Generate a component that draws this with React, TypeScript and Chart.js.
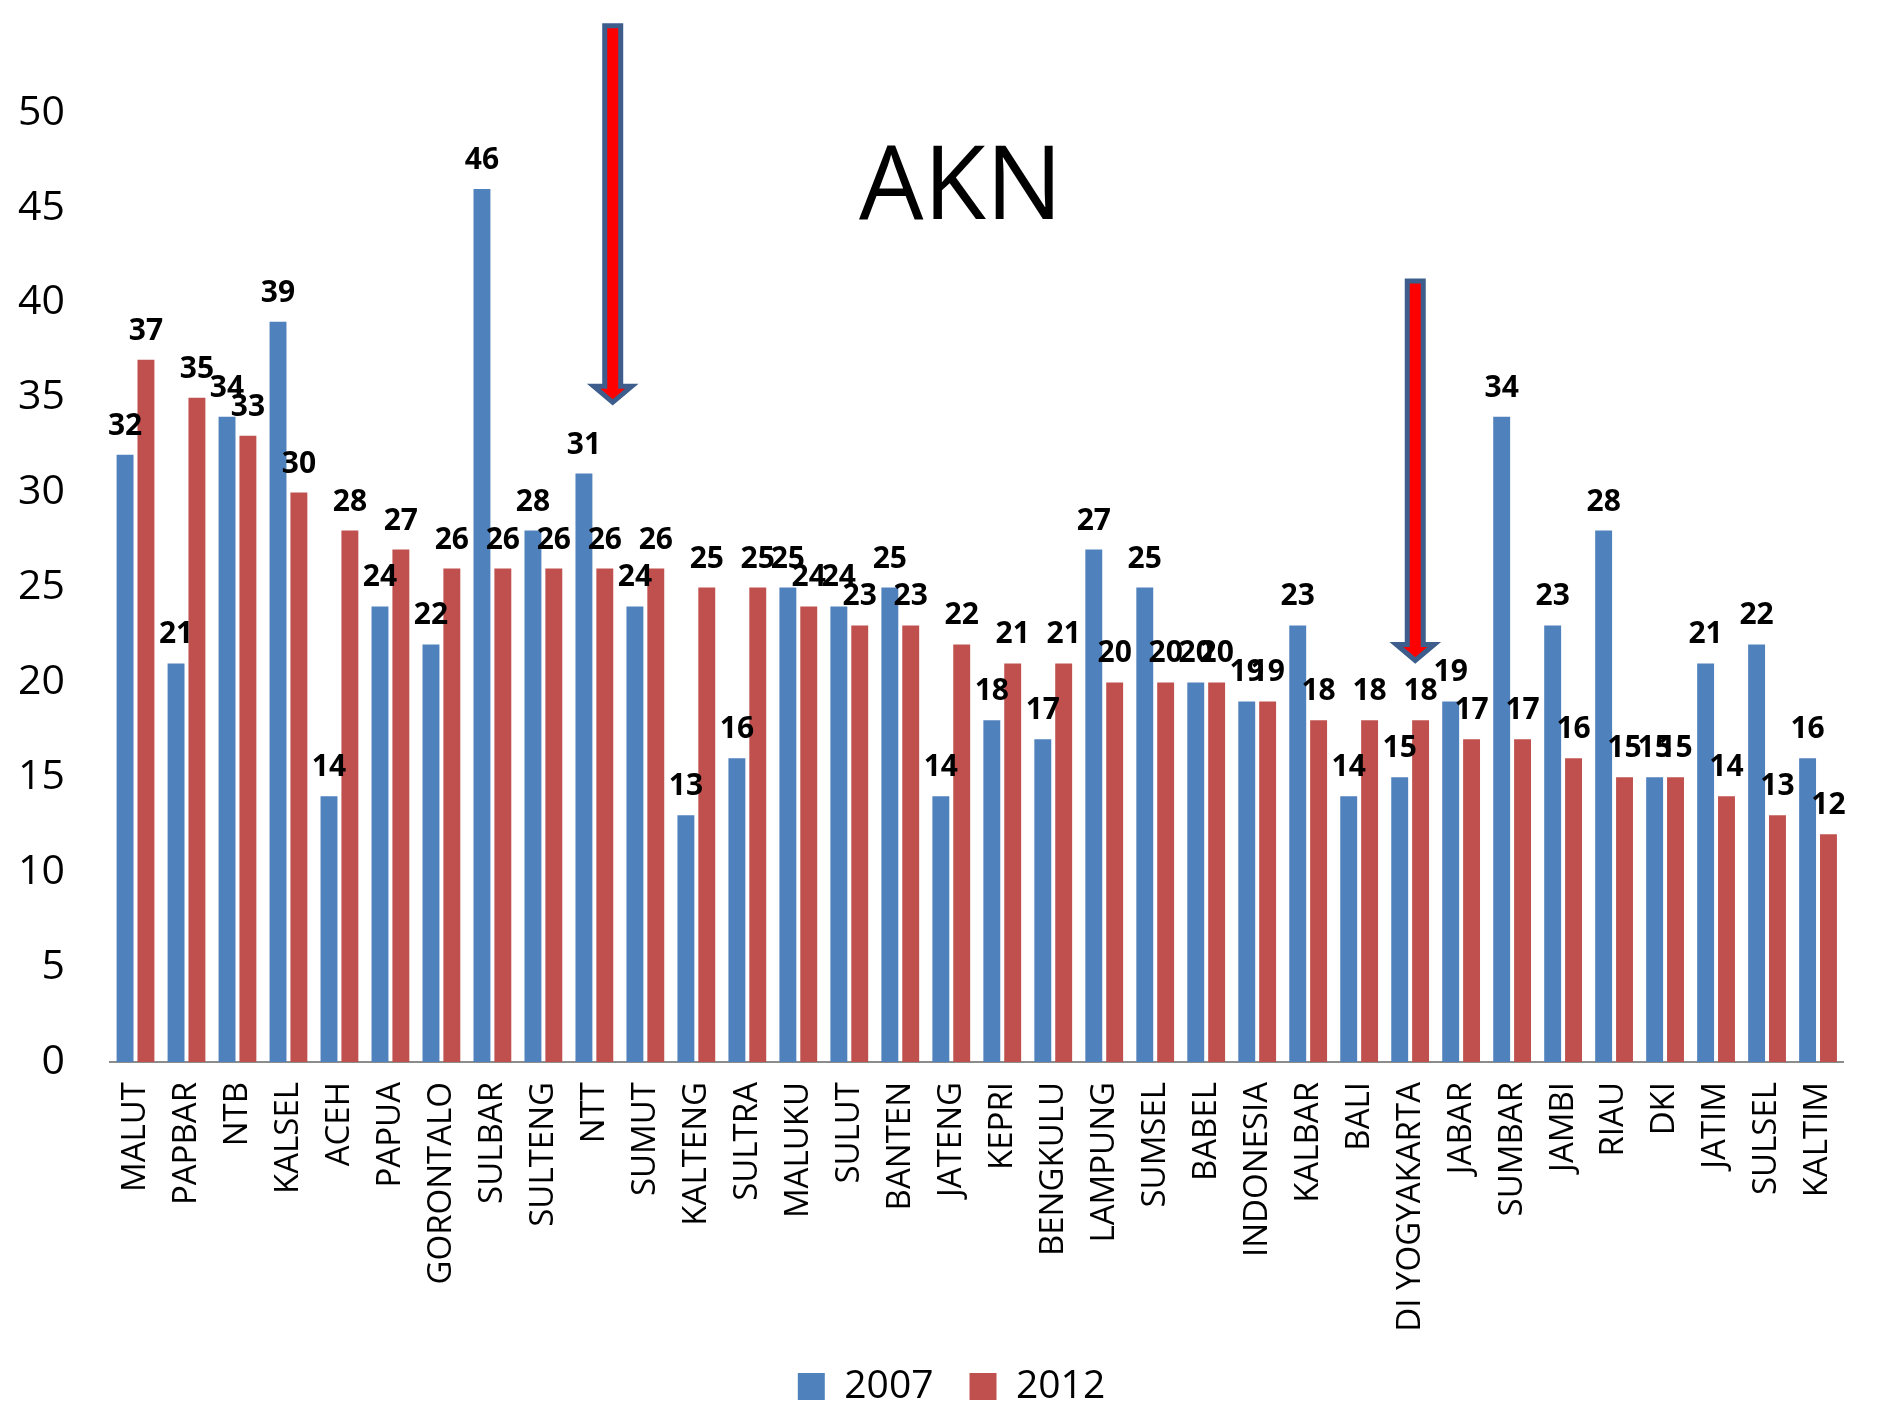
import React, { useEffect, useRef } from "react";
import { Chart, registerables } from "chart.js";

Chart.register(...registerables);

const categories = [
  "MALUT", "PAPBAR", "NTB", "KALSEL", "ACEH", "PAPUA", "GORONTALO", "SULBAR", "SULTENG", "NTT",
  "SUMUT", "KALTENG", "SULTRA", "MALUKU", "SULUT", "BANTEN", "JATENG", "KEPRI", "BENGKULU", "LAMPUNG",
  "SUMSEL", "BABEL", "INDONESIA", "KALBAR", "BALI", "DI YOGYAKARTA", "JABAR", "SUMBAR", "JAMBI", "RIAU",
  "DKI", "JATIM", "SULSEL", "KALTIM",
];

const values2007 = [32, 21, 34, 39, 14, 24, 22, 46, 28, 31, 24, 13, 16, 25, 24, 25, 14, 18, 17, 27, 25, 20, 19, 23, 14, 15, 19, 34, 23, 28, 15, 21, 22, 16];
const values2012 = [37, 35, 33, 30, 28, 27, 26, 26, 26, 26, 26, 25, 25, 24, 23, 23, 22, 21, 21, 20, 20, 20, 19, 18, 18, 18, 17, 17, 16, 15, 15, 14, 13, 12];

const seriesLabels = ["2007", "2012"];
const seriesColors = ["#4F81BD", "#C0504D"];

const chartTitle = "AKN";

// arrow annotations: category position (index), start value, end value
const arrowCategoryPos = [9.36, 25.1];
const arrowFromValue = [54.7, 41.25];
const arrowToValue = [34.6, 21.0];

const FONT = "'Open Sans', 'DejaVu Sans', sans-serif";

const labelsPlugin = {
  id: "barValueLabels",
  afterDatasetsDraw(chart: any) {
    const { ctx } = chart;
    ctx.save();
    ctx.font = `bold 30px ${FONT}`;
    ctx.fillStyle = "#000000";
    ctx.textAlign = "center";
    ctx.textBaseline = "alphabetic";
    chart.data.datasets.forEach((ds: any, di: number) => {
      const meta = chart.getDatasetMeta(di);
      meta.data.forEach((bar: any, i: number) => {
        ctx.fillText(String(ds.data[i]), bar.x, bar.y - 20);
      });
    });
    ctx.restore();
  },
};

const layoutTweakPlugin = {
  id: "layoutTweak",
  afterLayout(chart: any) {
    const lg = chart.legend;
    if (lg) {
      const dx = 25;
      const dy = chart.height - 41 - (lg.top + 36);
      lg.left += dx;
      lg.right += dx;
      lg.top += dy;
      lg.bottom += dy;
    }
    // let the long rotated category labels extend below the axis box
    const xs = chart.scales.x;
    if (xs) xs.bottom = chart.height;
  },
};

const overlayPlugin = {
  id: "titleAndArrows",
  afterDraw(chart: any) {
    const { ctx, chartArea, scales } = chart;
    const xs = scales.x;
    const ys = scales.y;
    ctx.save();
    // title
    ctx.font = `102px ${FONT}`;
    ctx.fillStyle = "#000000";
    ctx.textAlign = "center";
    ctx.textBaseline = "alphabetic";
    const tx = (chartArea.left + chartArea.right) / 2 - 16;
    ctx.fillText(chartTitle, tx, ys.getPixelForValue(44.4));

    // arrows
    arrowCategoryPos.forEach((pos, i) => {
      const x = xs.getPixelForValue(pos);
      const y0 = ys.getPixelForValue(arrowFromValue[i]) + 2;
      const y1 = ys.getPixelForValue(arrowToValue[i]) - 3;
      const shaftHalf = 8;
      const headHalf = 19;
      const headH = 16;
      ctx.beginPath();
      ctx.moveTo(x - shaftHalf, y0);
      ctx.lineTo(x + shaftHalf, y0);
      ctx.lineTo(x + shaftHalf, y1 - headH);
      ctx.lineTo(x + headHalf, y1 - headH);
      ctx.lineTo(x, y1);
      ctx.lineTo(x - headHalf, y1 - headH);
      ctx.lineTo(x - shaftHalf, y1 - headH);
      ctx.closePath();
      ctx.fillStyle = "#FF0000";
      ctx.fill();
      ctx.lineWidth = 5;
      ctx.lineJoin = "miter";
      ctx.strokeStyle = "#3D5E8C";
      ctx.stroke();
    });
    ctx.restore();
  },
};

export default function App() {
  const canvasRef = useRef<HTMLCanvasElement | null>(null);

  useEffect(() => {
    document.body.style.margin = "0";
    const canvas = canvasRef.current;
    if (!canvas) return;
    const chart = new Chart(canvas, {
      type: "bar",
      data: {
        labels: categories,
        datasets: [
          {
            label: seriesLabels[0],
            data: values2007,
            backgroundColor: seriesColors[0],
            categoryPercentage: 0.819,
            barPercentage: 0.81,
          },
          {
            label: seriesLabels[1],
            data: values2012,
            backgroundColor: seriesColors[1],
            categoryPercentage: 0.819,
            barPercentage: 0.81,
          },
        ],
      },
      options: {
        animation: false,
        responsive: false,
        devicePixelRatio: 1,
        layout: { padding: { top: 113, right: 25, bottom: 0, left: 0 } },
        plugins: {
          title: { display: false },
          tooltip: { enabled: false },
          legend: {
            position: "bottom",
            labels: {
              boxWidth: 27,
              boxHeight: 27,
              padding: 36,
              color: "#000000",
              font: { family: FONT, size: 39 },
            },
          },
        },
        scales: {
          x: {
            grid: { display: false, drawTicks: false },
            border: { display: true, color: "#8C8C8C", width: 2 },
            ticks: {
              color: "#000000",
              font: { family: FONT, size: 33 },
              maxRotation: 90,
              minRotation: 90,
              autoSkip: false,
              padding: 20,
            },
            afterFit(scale: any) {
              scale.height = 261;
            },
          },
          y: {
            min: 0,
            max: 50,
            grid: { display: false, drawTicks: false },
            border: { display: false },
            ticks: {
              stepSize: 5,
              color: "#000000",
              font: { family: FONT, size: 41 },
              padding: 45,
            },
            afterFit(scale: any) {
              scale.width = 110;
            },
          },
        },
      },
      plugins: [labelsPlugin, layoutTweakPlugin, overlayPlugin],
    });
    return () => chart.destroy();
  }, []);

  return (
    <div style={{ width: 1878, height: 1408, background: "#ffffff" }}>
      <canvas ref={canvasRef} width={1878} height={1408} />
    </div>
  );
}
